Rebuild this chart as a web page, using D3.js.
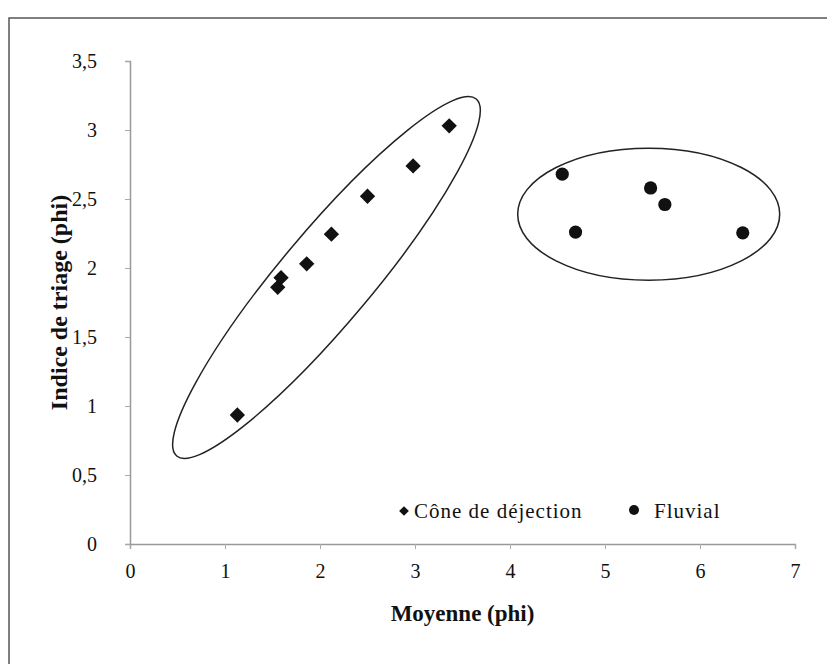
<!DOCTYPE html>
<html>
<head>
<meta charset="utf-8">
<script src="https://cdn.jsdelivr.net/npm/d3@7"></script>
<style>
  body { margin: 0; background: #fff; }
  svg { display: block; }
  svg text { font-family: "Liberation Serif", "Times New Roman", serif; }
</style>
</head>
<body>
<div id="chart"></div>
<script>
// Data
const coneX = [1.13, 1.555, 1.59, 1.86, 2.12, 2.50, 2.98, 3.36];
const coneY = [0.935, 1.86, 1.93, 2.03, 2.245, 2.52, 2.74, 3.03];
const fluvialX = [4.55, 4.69, 5.48, 5.63, 6.45];
const fluvialY = [2.68, 2.26, 2.58, 2.46, 2.255];
const seriesNames = ["Cône de déjection", "Fluvial"];
const xTicks = [0, 1, 2, 3, 4, 5, 6, 7];
const yTicks = [0, 0.5, 1, 1.5, 2, 2.5, 3, 3.5];

let width = 827, height = 664;

let svg = d3.select("#chart")
  .append("svg")
  .attr("width", width)
  .attr("height", height)
  .style("background", "#fff");

// outer frame (runs off the right and bottom edges)
svg.append("rect")
  .attr("x", 9)
  .attr("y", 18)
  .attr("width", 840)
  .attr("height", 700)
  .attr("fill", "none")
  .attr("stroke", "#555")
  .attr("stroke-width", 1.5);

let xScale = d3.scaleLinear().domain([0, 7]).range([130, 795]);
let yScale = d3.scaleLinear().domain([0, 3.5]).range([544, 61]);

const fmt = d => String(d).replace(".", ",");

// axes
let xAxis = svg.append("g")
  .attr("transform", `translate(0,${yScale(0)})`)
  .call(d3.axisBottom(xScale).tickValues(xTicks).tickFormat(fmt).tickSize(5).tickPadding(15));

let yAxis = svg.append("g")
  .attr("transform", `translate(${xScale(0)},0)`)
  .call(d3.axisLeft(yScale).tickValues(yTicks).tickFormat(fmt).tickSize(5).tickPadding(28));

[xAxis, yAxis].forEach(ax => {
  ax.attr("font-family", null).attr("font-size", null);
  ax.select(".domain").attr("stroke", "#999").attr("stroke-width", 1.5);
  ax.selectAll(".tick line").attr("stroke", "#aaa");
  ax.selectAll(".tick text")
    .attr("fill", "#111")
    .style("font-size", "20px");
});

// axis titles
svg.append("text")
  .attr("x", xScale(3.5))
  .attr("y", 621)
  .attr("text-anchor", "middle")
  .style("font-weight", "bold")
  .style("font-size", "23px")
  .attr("fill", "#111")
  .text("Moyenne (phi)");

svg.append("text")
  .attr("transform", `translate(67,${yScale(1.75)}) rotate(-90)`)
  .attr("text-anchor", "middle")
  .style("font-weight", "bold")
  .style("font-size", "24px")
  .attr("fill", "#111")
  .text("Indice de triage (phi)");

// grouping ellipses (annotations, centre in data units, radii in pixels)
const rings = [
  {cx: 2.068, cy: 1.931, rx: 233, ry: 46, angle: -50},
  {cx: 5.46, cy: 2.39, rx: 131, ry: 66, angle: 0}
];
rings.forEach(r => {
  svg.append("ellipse")
    .attr("transform", `translate(${xScale(r.cx)},${yScale(r.cy)}) rotate(${r.angle})`)
    .attr("rx", r.rx)
    .attr("ry", r.ry)
    .attr("fill", "none")
    .attr("stroke", "#222")
    .attr("stroke-width", 1.5);
});

// points
const diamond = d3.symbol().type(d3.symbolDiamond2).size(150);

svg.selectAll(".cone")
  .data(d3.zip(coneX, coneY))
  .enter()
  .append("path")
  .attr("d", diamond)
  .attr("transform", d => `translate(${xScale(d[0])},${yScale(d[1])})`)
  .attr("fill", "#111");

svg.selectAll(".fluvial")
  .data(d3.zip(fluvialX, fluvialY))
  .enter()
  .append("circle")
  .attr("cx", d => xScale(d[0]))
  .attr("cy", d => yScale(d[1]))
  .attr("r", 6.6)
  .attr("fill", "#111");

// legend
const legend = svg.append("g");
legend.append("path")
  .attr("d", d3.symbol().type(d3.symbolDiamond2).size(60))
  .attr("transform", "translate(404,511)")
  .attr("fill", "#111");
legend.append("circle")
  .attr("cx", 634)
  .attr("cy", 510)
  .attr("r", 5)
  .attr("fill", "#111");
[[414, seriesNames[0]], [654, seriesNames[1]]].forEach(([x, t]) => {
  legend.append("text")
    .attr("x", x)
    .attr("y", 518)
    .style("font-size", "21px")
    .style("letter-spacing", "1px")
    .attr("fill", "#111")
    .text(t);
});
</script>
</body>
</html>
